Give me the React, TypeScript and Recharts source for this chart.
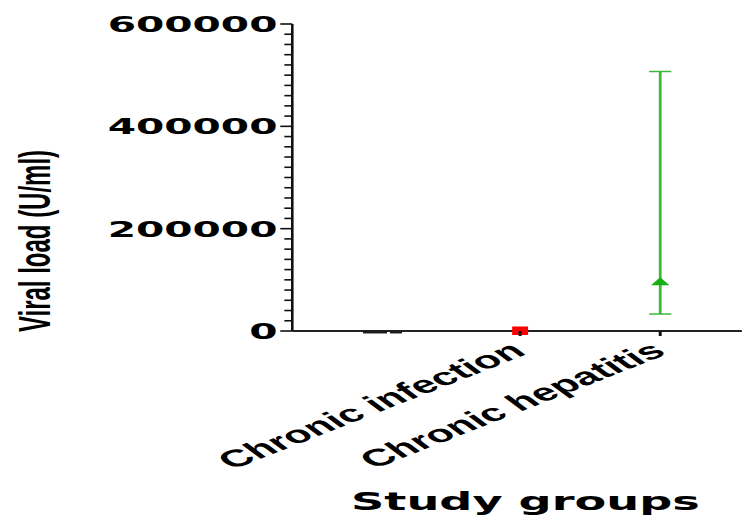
import { ComposedChart, Scatter, ErrorBar, XAxis, YAxis } from "recharts"

// study groups on the x axis (first group has no printed label)
const groups = ["", "Chronic infection", "Chronic hepatitis"]
// mean viral load per group (U/ml)
const means = [300, 1000, 97000]
// error bar distances below / above the mean
const errDown = [null, null, 64000]
const errUp = [null, null, 410000]
const markerColors = ["#1a1a1a", "#ff0000", "#14b014"]

const majorTicks = [0, 200000, 400000, 600000]
const minorStep = 20000
const yTicks = Array.from({ length: 600000 / minorStep + 1 }, (_, i) => i * minorStep)

const data = groups.map((g, i) => ({
  group: g,
  mean: means[i],
  err: errUp[i] == null ? undefined : [errDown[i], errUp[i]],
}))

// the source picture is stretched sideways, so draw narrow and scale
const SX = 1.85
const W = 742 / SX
const H = 521

function YTick(props: any) {
  const { x, y, payload } = props
  const major = majorTicks.includes(payload.value)
  return (
    <g>
      <line x1={x - (major ? 6.5 : 4.3)} x2={x} y1={y} y2={y} stroke="#111" strokeWidth={1.6} />
      {major && (
        <text x={x - 8} y={y} dy="0.36em" textAnchor="end" fontFamily="DejaVu Sans" fontWeight="bold" fontSize={22} fill="#000">
          {payload.value}
        </text>
      )}
    </g>
  )
}

function XTick(props: any) {
  const { x, y, payload } = props
  if (!payload.value) return null
  const tx = x + 4
  const ty = y + 23
  return (
    <g>
      <line x1={x} x2={x} y1={y} y2={y + 5} stroke="#111" strokeWidth={1.6} />
      <text x={tx} y={ty} transform={`rotate(-36 ${tx} ${ty})`} textAnchor="end" fontFamily="Liberation Sans" fontWeight="bold" fontSize={24} fill="#000">
        {payload.value}
      </text>
    </g>
  )
}

function Marker(props: any) {
  const { cx, cy, index } = props
  const c = markerColors[index]
  if (index === 2)
    return <path d={`M${cx - 5},${cy + 4}L${cx + 5},${cy + 4}L${cx},${cy - 4}Z`} fill={c} />
  if (index === 1) return <rect x={cx - 4.3} y={cy - 4} width={8.6} height={8.5} fill={c} />
  return (
    <g fill={c}>
      <rect x={cx - 9.2} y={cy} width={13} height={2.6} />
      <rect x={cx + 5.4} y={cy} width={6.5} height={2.6} />
    </g>
  )
}

function YLabel() {
  return (
    <text x={27} y={241} transform="rotate(-90 27 241)" textAnchor="middle" fontFamily="Liberation Sans" fontWeight="bold" fontSize={24} fill="#000">
      Viral load (U/ml)
    </text>
  )
}

function XLabel() {
  return (
    <text x={284} y={510} textAnchor="middle" fontFamily="DejaVu Sans" fontWeight="bold" fontSize={25} fill="#000">
      Study groups
    </text>
  )
}

export default function App() {
  return (
    <div style={{ position: "absolute", left: 0, top: 0, width: 742, height: 521, background: "#fff", overflow: "hidden" }}>
      <div style={{ width: W, height: H, transform: `scaleX(${SX})`, transformOrigin: "0 0" }}>
        <ComposedChart width={W} height={H} data={data} margin={{ top: 24, right: 0, bottom: 160, left: 0 }}>
          <XAxis
            dataKey="group"
            type="category"
            height={30}
            interval={0}
            padding={{ left: 47.4, right: 44.2 }}
            tickLine={false}
            tickSize={0}
            tickMargin={0}
            tick={<XTick />}
            axisLine={{ stroke: "#222", strokeWidth: 2 }}
            label={<XLabel />}
          />
          <YAxis
            width={158}
            type="number"
            domain={[0, 600000]}
            ticks={yTicks}
            interval={0}
            tickLine={false}
            tickSize={0}
            tickMargin={0}
            tick={<YTick />}
            axisLine={{ stroke: "#111", strokeWidth: 1.4 }}
            label={<YLabel />}
          />
          <Scatter dataKey="mean" shape={<Marker />} isAnimationActive={false}>
            <ErrorBar dataKey="err" direction="y" width={6} stroke="#3cb83c" strokeWidth={1.5} isAnimationActive={false} />
          </Scatter>
        </ComposedChart>
      </div>
    </div>
  )
}
